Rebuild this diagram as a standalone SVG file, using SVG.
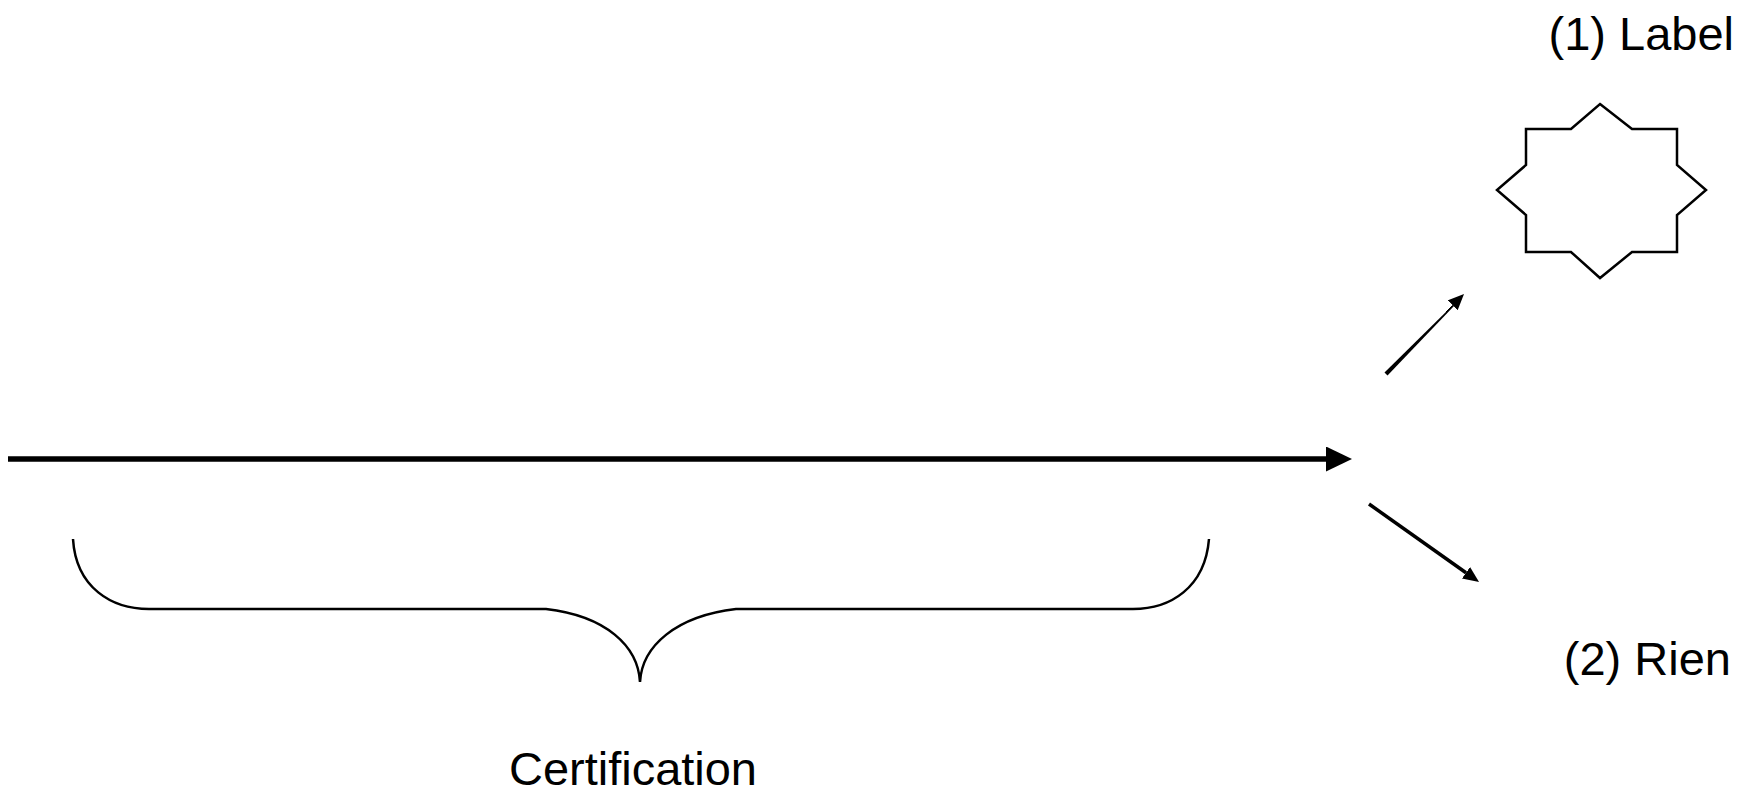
<svg xmlns="http://www.w3.org/2000/svg" width="1747" height="794" viewBox="0 0 1747 794">
<style>
.t{font-family:"Liberation Sans",Arial,sans-serif;font-size:47px;fill:#000}
.ln{stroke:#000;fill:none}
</style>
<defs>
<marker id="big" markerUnits="userSpaceOnUse" markerWidth="30" markerHeight="30" refX="0" refY="12.5" orient="auto"><path d="M0,0 L26,12.5 L0,25 Z" fill="#000"/></marker>
<marker id="sm" markerUnits="userSpaceOnUse" markerWidth="20" markerHeight="20" refX="0" refY="7" orient="auto"><path d="M0,0 L16,7 L0,14 Z" fill="#000"/></marker>
</defs>
<rect width="1747" height="794" fill="#fff"/>
<g id="connectors">
<line class="ln" x1="8" y1="459" x2="1326" y2="459" stroke-width="5.5" marker-end="url(#big)"/>
<path d="M1384.5,372.5 L1387.5,375.5 L1454,306 L1453,305 Z" fill="#000"/>
<line class="ln" x1="1446" y1="312" x2="1452.7" y2="305.3" stroke-width="1" marker-end="url(#sm)"/>
<line class="ln" x1="1369" y1="504" x2="1466" y2="572.8" stroke-width="3.5" marker-end="url(#sm)"/>
</g>
<g id="star">
<path class="ln" stroke-width="2.5" d="M1600,104 L1632,129 L1677,129 L1677,165 L1706,190 L1677,215 L1677,252 L1632,252 L1600,278 L1571,252 L1526,252 L1526,215 L1497,190 L1526,165 L1526,129 L1571,129 Z"/>
</g>
<g id="label1"><text class="t" x="1734" y="50" text-anchor="end">(1) Label</text></g>
<g id="label2"><text class="t" x="1731" y="675" text-anchor="end">(2) Rien</text></g>
<g id="brace">
<path class="ln" stroke-width="2.5" d="M73,539 C76,588 112,609 149,609 L546,609 C606,616 638,646 640,682 C642,646 676,616 736,609 L1133,609 C1170,609 1205,588 1209,539"/>
</g>
<g id="certification"><text class="t" x="509" y="785" textLength="248" lengthAdjust="spacingAndGlyphs">Certification</text></g>
</svg>
